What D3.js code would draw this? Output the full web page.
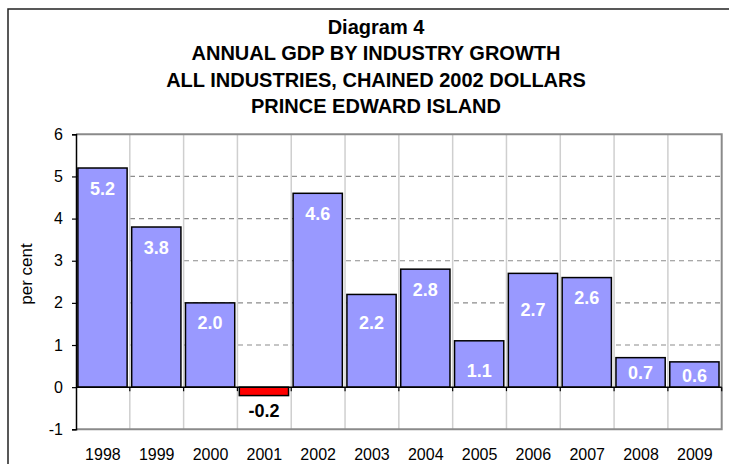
<!DOCTYPE html>
<html>
<head>
<meta charset="utf-8">
<script src="https://cdn.jsdelivr.net/npm/d3@7/dist/d3.min.js"></script>
<style>
  html, body { margin: 0; padding: 0; background: #fff; }
  svg { display: block; }
  text { font-family: "Liberation Sans", Arial, sans-serif; }
</style>
</head>
<body>
<div id="chart"></div>
<script>
const titleLines = ["Diagram 4", "ANNUAL GDP BY INDUSTRY GROWTH", "ALL INDUSTRIES, CHAINED 2002 DOLLARS", "PRINCE EDWARD ISLAND"];
const years = ["1998","1999","2000","2001","2002","2003","2004","2005","2006","2007","2008","2009"];
const growth = [5.2, 3.8, 2.0, -0.2, 4.6, 2.2, 2.8, 1.1, 2.7, 2.6, 0.7, 0.6];
const yTicks = [-1, 0, 1, 2, 3, 4, 5, 6];
const yLabel = "per cent";

const W = 729, H = 464;
const plot = { left: 76, right: 721.7, top: 134.3, bottom: 429.3 };

// label baseline offsets below bar top (px), as placed in the original
const labelOffset = { "2003": 35, "2005": 36, "2006": 43, "2008": 21, "2009": 20.5 };

const svg = d3.select("#chart").append("svg").attr("width", W).attr("height", H);

// outer frame (extends past right/bottom edge)
svg.append("rect").attr("x", 8).attr("y", 9).attr("width", 760).attr("height", 480)
  .attr("fill", "#fff").attr("stroke", "#222").attr("stroke-width", 1.5);

// title
svg.append("g").selectAll("text").data(titleLines).join("text")
  .attr("x", 376).attr("y", (d, i) => 34 + i * 26.4)
  .attr("text-anchor", "middle").attr("font-size", 20).attr("font-weight", "bold")
  .attr("fill", "#000").text(d => d);

const x = d3.scaleBand().domain(years).range([plot.left, plot.right]).padding(0);
const y = d3.scaleLinear().domain([-1, 6]).range([plot.bottom, plot.top]);

// horizontal dashed gridlines
svg.append("g").selectAll("line").data(yTicks.filter(t => t > 0 && t < 6)).join("line")
  .attr("x1", plot.left).attr("x2", plot.right)
  .attr("y1", d => y(d)).attr("y2", d => y(d))
  .attr("stroke", "#8c8c8c").attr("stroke-width", 1.2).attr("stroke-dasharray", "5,4");

// vertical gridlines at category boundaries
svg.append("g").selectAll("line").data(years.slice(1)).join("line")
  .attr("x1", d => x(d)).attr("x2", d => x(d))
  .attr("y1", plot.top).attr("y2", plot.bottom)
  .attr("stroke", "#cfcfcf").attr("stroke-width", 1.5);

// plot frame top/right/bottom (gray)
svg.append("path")
  .attr("d", `M${plot.left},${y(6)}H${plot.right}V${y(-1)}H${plot.left}`)
  .attr("fill", "none").attr("stroke", "#8a8a8a").attr("stroke-width", 2);

// bars
const bw = x.bandwidth() * 0.915;
const off = x.bandwidth() * 0.035;
svg.append("g").selectAll("rect").data(years).join("rect")
  .attr("x", d => x(d) + off)
  .attr("width", bw)
  .attr("y", (d, i) => y(Math.max(0, growth[i])))
  .attr("height", (d, i) => Math.abs(y(growth[i]) - y(0)))
  .attr("fill", (d, i) => growth[i] < 0 ? "#ff0000" : "#9999ff")
  .attr("stroke", "#000").attr("stroke-width", 1.5);

// value labels
svg.append("g").selectAll("text").data(years).join("text")
  .attr("x", d => x(d) + off + bw / 2)
  .attr("y", (d, i) => growth[i] < 0 ? y(growth[i]) + 21.5 : y(growth[i]) + (labelOffset[d] ?? 26.5))
  .attr("text-anchor", "middle").attr("font-size", 18).attr("font-weight", "bold")
  .attr("fill", (d, i) => growth[i] < 0 ? "#000" : "#fff")
  .text((d, i) => growth[i].toFixed(1));

// y axis
const yAxis = svg.append("g").attr("transform", `translate(${plot.left},0)`)
  .call(d3.axisLeft(y).tickValues(yTicks).tickSize(4).tickPadding(9).tickFormat(d => String(d)));
yAxis.select(".domain").attr("stroke", "#000").attr("stroke-width", 1.5);
yAxis.selectAll(".tick line").attr("stroke", "#000").attr("stroke-width", 1.2);
yAxis.selectAll(".tick text").attr("font-size", 16).attr("fill", "#000")
  .style("font-family", "'Liberation Sans', Arial, sans-serif");

// zero line with boundary ticks
svg.append("line").attr("x1", plot.left).attr("x2", plot.right)
  .attr("y1", y(0)).attr("y2", y(0)).attr("stroke", "#000").attr("stroke-width", 1.5);
svg.append("g").selectAll("line").data(years.slice(1).concat(["end"])).join("line")
  .attr("x1", d => d === "end" ? plot.right : x(d)).attr("x2", d => d === "end" ? plot.right : x(d))
  .attr("y1", y(0)).attr("y2", y(0) + 4)
  .attr("stroke", "#000").attr("stroke-width", 1.2);

// x category labels
svg.append("g").selectAll("text").data(years).join("text")
  .attr("x", d => x(d) + x.bandwidth() / 2).attr("y", 460)
  .attr("text-anchor", "middle").attr("font-size", 16).attr("fill", "#000").text(d => d);

// y axis title
svg.append("text").attr("transform", `translate(32,274) rotate(-90)`)
  .attr("text-anchor", "middle").attr("font-size", 17).attr("fill", "#000").text(yLabel);
</script>
</body>
</html>
